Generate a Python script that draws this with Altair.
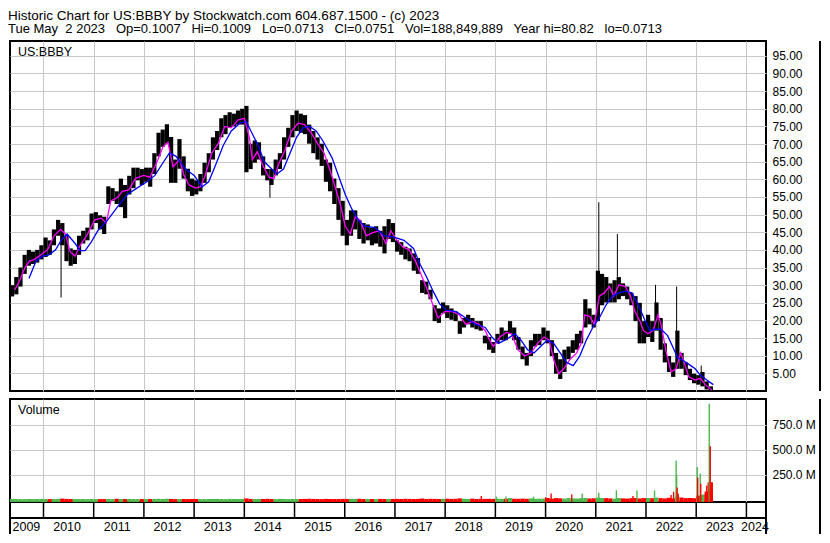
import altair as alt
import pandas as pd

FONT = "Liberation Sans"
GRID = "#c8c8c8"
GREEN = "#4cb84c"
RED = "#ff0000"

W, HP, HV = 756, 350, 103
X0, X1 = 2009.333, 2024.39
Y_MAX = 99.2
V_MIN, V_MAX = -25, 1005

TITLE_1 = "Historic Chart for US:BBBY by Stockwatch.com 604.687.1500 - (c) 2023"
TITLE_2 = ("Tue May\u00a0\u00a02 2023\u00a0\u00a0 Op=0.1007\u00a0\u00a0 Hi=0.1009\u00a0\u00a0 "
           "Lo=0.0713\u00a0\u00a0 Cl=0.0751\u00a0\u00a0 Vol=188,849,889\u00a0\u00a0 "
           "Year hi=80.82\u00a0\u00a0 lo=0.0713")

# monthly price range, May 2009 .. Apr 2023
price_hi = [
    30.0, 32.3, 35.0, 38.6, 40.0, 39.5, 40.0, 41.3,
    43.5, 42.7, 45.8, 48.5, 47.6, 44.0, 40.4, 40.0, 44.0, 45.4, 46.3, 50.3,
    50.7, 49.8, 49.4, 58.0, 57.5, 56.6, 60.2, 58.4, 61.0, 63.3, 63.3, 62.9,
    63.3, 63.3, 67.4, 73.2, 74.1, 75.6, 72.0, 65.6, 71.4, 66.5, 63.0, 60.2,
    59.7, 61.5, 64.7, 67.4, 71.9, 73.7, 77.3, 78.2, 79.0, 78.6, 79.5, 80.0,
    80.8, 70.1, 71.0, 70.5, 66.5, 62.9, 62.9, 65.6, 67.4, 71.9, 74.6, 78.2,
    79.5, 78.6, 78.2, 75.5, 73.7, 71.9, 70.1, 65.6, 64.7, 60.2, 57.5, 53.9,
    48.5, 51.2, 51.2, 48.5, 47.6, 47.2, 46.3, 46.7, 45.4, 46.7, 48.7, 47.6,
    42.7, 42.2, 40.9, 40.4, 39.0, 37.7, 31.4, 31.0, 28.7, 24.3, 23.4, 25.1,
    24.3, 23.4, 22.5, 19.8, 20.7, 21.6, 20.7, 19.8, 19.8, 15.7, 15.3, 13.9,
    16.2, 18.0, 17.1, 19.8, 18.0, 15.3, 12.6, 10.8, 14.4, 16.2, 16.2, 18.0,
    17.1, 14.4, 10.8, 9.0, 11.7, 12.6, 14.4, 16.2, 17.1, 26.0, 23.4, 21.6,
    34.1, 33.2, 32.3, 30.5, 31.4, 32.3, 30.5, 29.6, 27.8, 26.9, 25.0, 19.8,
    21.6, 19.8, 25.1, 20.7, 13.5, 9.9, 8.1, 17.1, 10.8, 8.1, 6.3, 4.9,
    4.5, 5.4, 2.7, 1.3,
]
price_lo = [
    26.8, 27.4, 29.6, 33.2, 35.5, 36.0, 36.4, 37.3,
    38.0, 38.6, 41.3, 44.0, 41.3, 36.8, 35.5, 36.0, 38.6, 41.8, 42.7, 45.8,
    47.6, 45.8, 44.5, 53.0, 53.9, 53.0, 52.1, 49.0, 55.7, 57.5, 59.7, 58.4,
    59.3, 57.9, 61.5, 66.5, 69.2, 70.1, 59.0, 59.0, 63.0, 60.2, 56.6, 55.3,
    55.7, 56.6, 59.0, 62.0, 65.6, 68.3, 71.9, 72.8, 74.6, 75.0, 75.5, 75.5,
    62.0, 62.9, 64.7, 65.6, 61.1, 59.7, 58.4, 61.1, 62.9, 65.6, 69.2, 71.9,
    73.7, 73.2, 72.8, 70.1, 67.4, 65.6, 63.8, 59.3, 56.6, 53.0, 48.5, 44.0,
    41.3, 44.0, 45.8, 43.1, 41.8, 42.7, 41.3, 41.8, 40.9, 39.0, 43.1, 42.2,
    39.5, 38.6, 37.3, 36.8, 34.1, 33.2, 27.8, 27.4, 26.0, 19.8, 19.3, 22.0,
    20.7, 20.2, 19.8, 16.2, 18.0, 18.9, 18.0, 17.5, 17.1, 13.5, 11.7, 10.8,
    13.5, 14.4, 14.4, 16.2, 14.4, 11.7, 9.0, 7.2, 9.9, 12.6, 13.0, 14.4,
    13.5, 9.9, 4.9, 3.4, 5.4, 9.0, 10.8, 11.7, 13.5, 18.0, 18.9, 18.0,
    19.8, 24.3, 25.1, 25.1, 25.1, 26.0, 26.9, 26.0, 24.3, 19.8, 13.5, 13.5,
    15.3, 13.9, 17.1, 11.7, 8.1, 5.4, 4.0, 6.3, 6.3, 4.5, 3.1, 2.2,
    1.8, 1.3, 0.45, 0.07,
]

# single-day spikes
spike_t = [2010.35, 2014.51, 2021.06, 2021.43, 2022.19, 2022.61, 2023.10]
spike_hi = [47.0, 60.0, 53.5, 44.5, 30.1, 29.6, 7.2]
spike_lo = [26.5, 54.8, 22.0, 28.0, 20.0, 10.0, 3.0]

# short moving average (magenta)
ma_short_t = [
    2009.43, 2009.53, 2009.63, 2009.72, 2009.82, 2009.95, 2010.08, 2010.21, 2010.34, 2010.44,
    2010.53, 2010.63, 2010.73, 2010.86, 2011.02, 2011.15, 2011.25, 2011.34, 2011.47, 2011.57,
    2011.70, 2011.83, 2011.99, 2012.12, 2012.28, 2012.38, 2012.48, 2012.58, 2012.71, 2012.80,
    2012.90, 2013.03, 2013.13, 2013.22, 2013.35, 2013.48, 2013.61, 2013.74, 2013.87, 2014.00,
    2014.10, 2014.16, 2014.26, 2014.36, 2014.49, 2014.59, 2014.68, 2014.81, 2014.94, 2015.07,
    2015.20, 2015.33, 2015.46, 2015.59, 2015.72, 2015.91, 2016.01, 2016.11, 2016.21, 2016.30,
    2016.43, 2016.56, 2016.69, 2016.82, 2016.92, 2017.02, 2017.15, 2017.28, 2017.41, 2017.50,
    2017.63, 2017.76, 2017.86, 2017.99, 2018.15, 2018.28, 2018.41, 2018.54, 2018.67, 2018.80,
    2018.87, 2018.96, 2019.09, 2019.22, 2019.32, 2019.45, 2019.58, 2019.71, 2019.84, 2019.97,
    2020.07, 2020.16, 2020.26, 2020.36, 2020.49, 2020.62, 2020.71, 2020.78, 2020.88, 2020.97,
    2021.07, 2021.17, 2021.27, 2021.36, 2021.46, 2021.59, 2021.69, 2021.78, 2021.88, 2021.95,
    2022.04, 2022.14, 2022.24, 2022.30, 2022.40, 2022.50, 2022.60, 2022.69, 2022.76, 2022.85,
    2022.98, 2023.08, 2023.18, 2023.31,
]
ma_short = [
    28.7, 31.4, 35.0, 36.8, 37.3, 38.6, 40.0, 44.0, 45.8, 44.5,
    39.5, 38.2, 41.3, 44.0, 48.5, 49.0, 47.6, 53.9, 54.8, 56.6,
    57.0, 60.2, 61.1, 60.6, 65.6, 69.2, 70.5, 63.5, 65.6, 61.1,
    58.4, 57.5, 57.9, 61.1, 67.4, 70.1, 75.0, 74.6, 76.8, 77.3,
    71.9, 65.6, 67.8, 64.2, 60.6, 60.2, 64.2, 68.3, 73.7, 75.9,
    75.5, 73.2, 70.1, 67.4, 62.0, 53.0, 46.7, 44.5, 49.4, 48.5,
    44.0, 44.9, 45.4, 41.8, 45.4, 43.1, 40.9, 40.0, 36.8, 33.7,
    29.2, 24.3, 20.7, 22.5, 22.5, 21.6, 18.9, 19.8, 18.9, 17.1,
    14.8, 12.6, 15.3, 16.6, 16.2, 11.7, 9.9, 10.8, 13.5, 15.3,
    14.4, 9.0, 4.9, 6.3, 9.0, 10.8, 13.5, 21.6, 21.1, 18.9,
    26.9, 27.8, 29.6, 26.9, 30.1, 29.6, 26.9, 22.5, 19.8, 17.1,
    16.2, 17.1, 21.6, 18.9, 11.2, 5.4, 6.3, 10.8, 8.1, 4.0,
    3.1, 3.6, 1.8, 0.3,
]

# long moving average (blue)
ma_long_t = [
    2009.71, 2009.85, 2009.98, 2010.11, 2010.24, 2010.37, 2010.47, 2010.63, 2010.73, 2010.83,
    2010.95, 2011.08, 2011.28, 2011.47, 2011.67, 2011.86, 2012.06, 2012.22, 2012.38, 2012.51,
    2012.64, 2012.83, 2013.00, 2013.16, 2013.29, 2013.42, 2013.58, 2013.74, 2013.91, 2014.04,
    2014.13, 2014.29, 2014.39, 2014.52, 2014.65, 2014.78, 2014.91, 2015.04, 2015.17, 2015.30,
    2015.43, 2015.56, 2015.75, 2015.85, 2016.01, 2016.14, 2016.27, 2016.40, 2016.60, 2016.79,
    2016.98, 2017.18, 2017.37, 2017.50, 2017.63, 2017.76, 2017.89, 2018.02, 2018.22, 2018.41,
    2018.61, 2018.80, 2018.93, 2019.06, 2019.19, 2019.39, 2019.51, 2019.64, 2019.77, 2019.90,
    2020.03, 2020.16, 2020.29, 2020.42, 2020.55, 2020.68, 2020.81, 2020.94, 2021.07, 2021.20,
    2021.33, 2021.46, 2021.59, 2021.72, 2021.85, 2021.98, 2022.08, 2022.17, 2022.30, 2022.43,
    2022.53, 2022.63, 2022.76, 2022.89, 2022.98, 2023.08, 2023.21, 2023.34,
]
ma_long = [
    31.9, 36.8, 38.2, 38.6, 40.0, 43.1, 44.5, 41.8, 39.8, 39.8,
    42.2, 45.4, 48.5, 52.1, 55.7, 57.5, 59.3, 61.1, 64.7, 67.5,
    66.5, 62.9, 61.1, 57.9, 59.3, 63.8, 69.6, 73.7, 75.9, 76.4,
    73.7, 69.2, 65.1, 63.3, 61.5, 62.9, 67.4, 71.9, 74.6, 75.0,
    73.7, 71.0, 66.0, 62.0, 55.7, 51.6, 48.5, 46.7, 46.3, 44.0,
    43.6, 42.7, 40.4, 35.9, 32.3, 28.3, 24.7, 22.9, 22.5, 20.7,
    18.9, 18.0, 15.3, 13.5, 14.4, 16.2, 14.4, 11.7, 10.8, 12.6,
    14.4, 13.5, 10.8, 8.1, 7.2, 9.9, 14.4, 18.0, 20.7, 24.3,
    26.9, 27.8, 28.3, 27.8, 24.3, 20.0, 17.1, 17.5, 17.5, 15.7,
    12.6, 9.4, 8.5, 7.2, 6.3, 4.5, 3.1, 1.8,
]

# monthly typical volume (millions), May 2009 .. Apr 2023
vol_month = [
    6, 5, 4, 4, 5, 4, 5, 6,
    5, 4, 4, 7, 9, 6, 5, 4, 4, 5, 4, 5,
    4, 4, 4, 5, 4, 7, 5, 4, 6, 5, 4, 5,
    4, 5, 6, 7, 5, 8, 5, 4, 5, 5, 4, 5,
    5, 4, 4, 5, 5, 6, 5, 4, 6, 5, 4, 5,
    11, 6, 5, 6, 5, 7, 5, 4, 6, 5, 4, 5,
    5, 5, 6, 7, 6, 5, 4, 6, 5, 5, 5, 6,
    6, 7, 6, 7, 5, 6, 5, 4, 6, 5, 6, 5,
    6, 5, 7, 6, 5, 6, 10, 5, 7, 6, 5, 7,
    8, 6, 7, 11, 7, 6, 9, 5, 7, 6, 7, 6,
    8, 7, 7, 15, 8, 7, 9, 7, 11, 7, 8, 9,
    15, 8, 14, 12, 9, 15, 11, 9, 13, 15, 10, 12,
    20, 15, 14, 11, 8, 15, 11, 9, 13, 15, 10, 14,
    15, 13, 20, 14, 11, 17, 10, 30, 20, 14, 15, 13,
    40, 50, 80, 100,
]

# single-day volume spikes (millions)
vol_spike_t = [2018.72, 2019.02, 2019.21, 2019.76, 2020.00, 2020.11, 2020.52, 2020.73,
               2021.06, 2021.41, 2021.74, 2021.82, 2022.17, 2022.50, 2022.55, 2022.60,
               2022.61, 2022.62, 2022.64, 2023.02, 2023.03, 2023.08, 2023.09, 2023.18,
               2023.21, 2023.24, 2023.26, 2023.28, 2023.30, 2023.32]
vol_spike = [35, 29, 29, 29, 22, 61, 51, 61,
             67, 93, 35, 90, 90, 45, 77, 388,
             247, 119, 61, 324, 221, 260, 157, 51,
             141, 173, 958, 532, 173, 173]
vol_spike_dir = ["down", "up", "up", "up", "down", "down", "down", "up",
                 "up", "up", "down", "up", "up", "down", "down", "up",
                 "up", "down", "down", "up", "down", "up", "down", "down",
                 "down", "down", "up", "down", "down", "down"]

price_ticks = list(range(5, 100, 5))
vol_ticks = [250, 500, 750]
year_ticks = list(range(2010, 2025))
year_labels = [str(y) for y in range(2009, 2025)]
year_label_t = [2009.66] + [y + 0.47 for y in range(2010, 2024)] + [2024.17]

# ---------------------------------------------------------------- data frames
months = [2009 + (4 + i + 0.5) / 12 for i in range(len(price_hi))]
price_df = pd.DataFrame({"t": months, "lo": price_lo, "hi": price_hi})
spike_df = pd.DataFrame({"t": spike_t, "lo": spike_lo, "hi": spike_hi})
short_df = pd.DataFrame({"t": ma_short_t, "v": ma_short})
long_df = pd.DataFrame({"t": ma_long_t, "v": ma_long})
mids = [(a + b) / 2 for a, b in zip(price_hi, price_lo)]
dirs = ["up"] + ["up" if mids[i] >= mids[i - 1] else "down" for i in range(1, len(mids))]
vol_df = pd.DataFrame({"t": months, "v": vol_month, "dir": dirs})
vspike_df = pd.DataFrame({"t": vol_spike_t, "v": vol_spike, "dir": vol_spike_dir})
bound_df = pd.DataFrame({"t": year_ticks})
label_df = pd.DataFrame({"t": year_label_t, "s": year_labels})
one = pd.DataFrame({"a": [0]})

# ---------------------------------------------------------------- scales/axes
xs = alt.Scale(domain=[X0, X1], nice=False, zero=False)
x_axis = alt.Axis(values=year_ticks, grid=True, gridColor=GRID, gridWidth=1,
                  labels=False, ticks=False, domain=False, title=None)
ys = alt.Scale(domain=[0, Y_MAX], nice=False, zero=False)
y_axis = alt.Axis(orient="right", values=price_ticks, format=".2f", grid=True,
                  gridColor=GRID, gridWidth=1, ticks=False, domain=False,
                  labelFont=FONT, labelFontSize=12, labelColor="black",
                  labelPadding=6, title=None)
vs = alt.Scale(domain=[V_MIN, V_MAX], nice=False, zero=False)
v_axis = alt.Axis(orient="right", values=vol_ticks, grid=True, gridColor=GRID,
                  gridWidth=1, ticks=False, domain=False,
                  labelExpr="format(datum.value, '.1f') + ' M'",
                  labelFont=FONT, labelFontSize=12, labelColor="black",
                  labelPadding=6, title=None)
vcolor = alt.Color("dir:N", scale=alt.Scale(domain=["up", "down"], range=[GREEN, RED]),
                   legend=None)


def X():
    return alt.X("t:Q", scale=xs, axis=x_axis)


# ---------------------------------------------------------------- price panel
bars = alt.Chart(price_df).mark_rule(color="black", strokeWidth=4.2).encode(
    x=X(), y=alt.Y("lo:Q", scale=ys, axis=y_axis), y2="hi:Q")
spikes = alt.Chart(spike_df).mark_rule(color="black", strokeWidth=1).encode(
    x=X(), y=alt.Y("lo:Q", scale=ys, axis=y_axis), y2="hi:Q")
short_line = alt.Chart(short_df).mark_line(color="#ff00ff", strokeWidth=1.3).encode(
    x=X(), y=alt.Y("v:Q", scale=ys, axis=y_axis))
long_line = alt.Chart(long_df).mark_line(color="#0000ff", strokeWidth=1.3).encode(
    x=X(), y=alt.Y("v:Q", scale=ys, axis=y_axis))
sym_text = alt.Chart(one).mark_text(align="left", baseline="middle", font=FONT,
                                    fontSize=12.5, color="black", text="US:BBBY").encode(
    x=alt.value(8), y=alt.value(11))
p_border = alt.Chart(one).mark_rule(color="black", strokeWidth=2).encode(
    x=alt.value(W + 54), y=alt.value(0), y2=alt.value(HP))
price = alt.layer(bars, spikes, short_line, long_line, sym_text, p_border).properties(
    width=W, height=HP)

# ---------------------------------------------------------------- volume panel
vbars = alt.Chart(vol_df).mark_rule(strokeWidth=4.2).encode(
    x=X(), y=alt.Y("v:Q", scale=vs, axis=v_axis), y2=alt.datum(V_MIN), color=vcolor)
vspikes = alt.Chart(vspike_df).mark_rule(strokeWidth=1.4).encode(
    x=X(), y=alt.Y("v:Q", scale=vs, axis=v_axis), y2=alt.datum(V_MIN), color=vcolor)
vol_text = alt.Chart(one).mark_text(align="left", baseline="middle", font=FONT,
                                    fontSize=12.5, color="black", text="Volume").encode(
    x=alt.value(8), y=alt.value(11))
v_border = alt.Chart(one).mark_rule(color="black", strokeWidth=2).encode(
    x=alt.value(W + 54), y=alt.value(0), y2=alt.value(HV + 32))
# date strip below the volume panel
seps = alt.Chart(bound_df).mark_rule(color="black", strokeWidth=1.5).encode(
    x=X(), y=alt.value(HV), y2=alt.value(HV + 16))
mid_rule = alt.Chart(one).mark_rule(color="black", strokeWidth=2).encode(
    x=alt.value(0), x2=alt.value(W), y=alt.value(HV + 16))
left_rule = alt.Chart(one).mark_rule(color="black", strokeWidth=2).encode(
    x=alt.value(0), y=alt.value(HV), y2=alt.value(HV + 32))
right_rule = alt.Chart(one).mark_rule(color="black", strokeWidth=2).encode(
    x=alt.value(W), y=alt.value(HV), y2=alt.value(HV + 32))
year_text = alt.Chart(label_df).mark_text(font=FONT, fontSize=12.5, color="black",
                                         baseline="middle", align="center").encode(
    x=X(), y=alt.value(HV + 25), text="s:N")
volume = alt.layer(vbars, vspikes, vol_text, v_border, seps, mid_rule, left_rule,
                   right_rule, year_text).properties(width=W, height=HV)

chart = alt.vconcat(price, volume, spacing=3).properties(
    title=alt.TitleParams(text=TITLE_1, subtitle=TITLE_2, anchor="start", font=FONT,
                          fontSize=13.5, fontWeight="normal", color="black",
                          subtitleFont=FONT, subtitleFontSize=13, subtitleColor="black",
                          subtitlePadding=1, lineHeight=14, offset=3),
    padding=0,
    background="white",
).configure_view(stroke="black", strokeWidth=2)

chart.save("out.html", embed_options={"renderer": "svg", "actions": False})
